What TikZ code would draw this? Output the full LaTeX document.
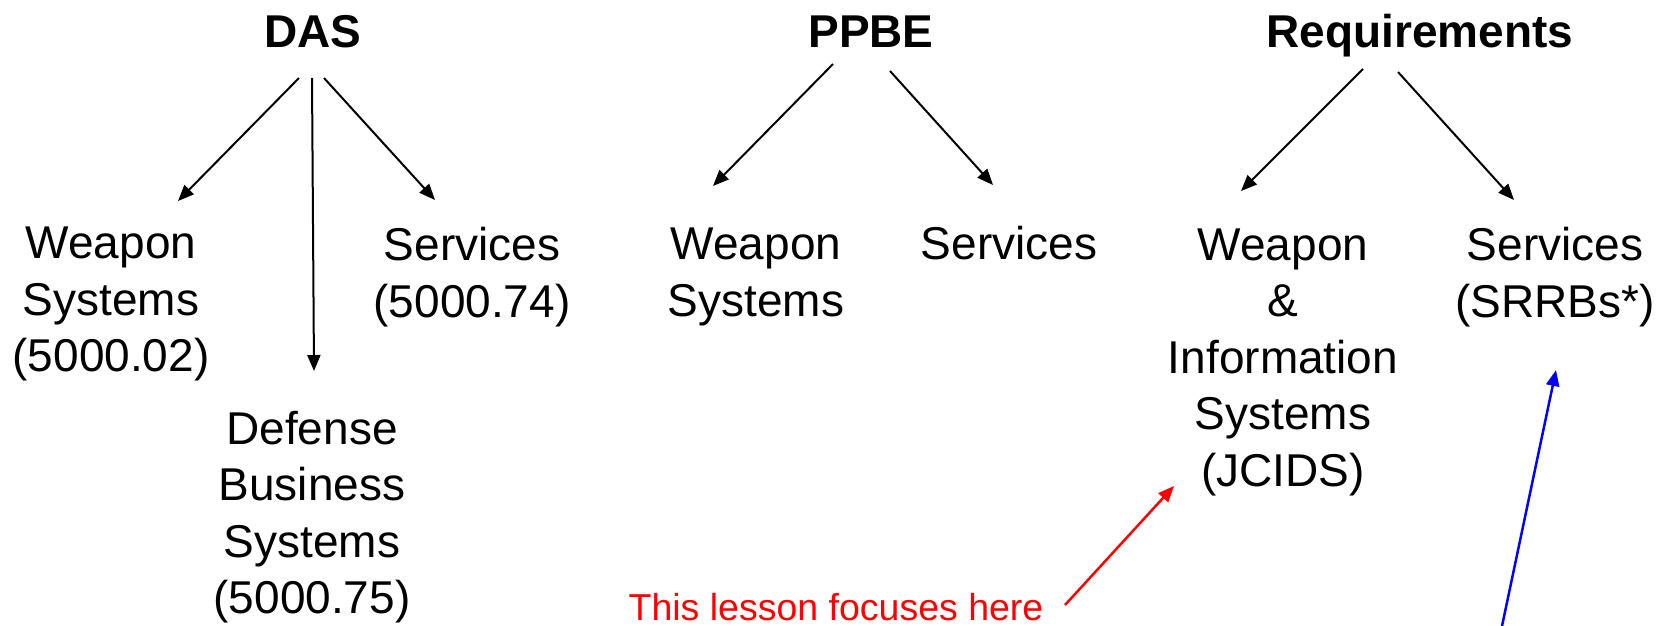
\documentclass[tikz,border=0pt]{standalone}
\usepackage{fontspec}
\setmainfont{Liberation Sans}
\usetikzlibrary{arrows.meta}
\begin{document}
\begin{tikzpicture}[x=1pt,y=-1pt,
  head/.style={font=\fontsize{46}{56}\selectfont\bfseries, inner sep=0pt, anchor=base},
  leaf/.style={font=\fontsize{46}{56.5}\selectfont, align=center, inner sep=0pt},
  arr/.style={line width=2pt, -{Triangle[length=16pt,width=13pt]}},
  note/.style={font=\fontsize{37.5}{44}\selectfont, text=red, inner sep=0pt}]
\useasboundingbox (0,0) rectangle (1680,625);

% column headings
\node[head] (das)  at (313,47)  {DAS};
\node[head] (ppbe) at (871,47)  {PPBE};
\node[head] (req)  at (1420,47) {Requirements};

% DAS branch
\node[leaf] (dasw) at (111,304) {Weapon\\Systems\\(5000.02)};
\node[leaf] (dass) at (472,277) {Services\\(5000.74)};
\node[leaf] (dasb) at (312,517) {Defense\\Business\\Systems\\(5000.75)};

% PPBE branch
\node[leaf] (ppw) at (756,277) {Weapon\\Systems};
\node[leaf] (pps) at (1009,243) {Services};

% Requirements branch
\node[leaf] (rqw) at (1283,362) {Weapon\\\&\\Information\\Systems\\(JCIDS)};
\node[leaf] (rqs) at (1555,277) {Services\\(SRRBs*)};

% arrow end points
\coordinate (a1s) at (299,78);  \coordinate (a1e) at (178,201);
\coordinate (a2s) at (312,78);  \coordinate (a2e) at (314,371);
\coordinate (a3s) at (324,78);  \coordinate (a3e) at (435,200);
\coordinate (b1s) at (833,64);  \coordinate (b1e) at (713,186);
\coordinate (b2s) at (890,71);  \coordinate (b2e) at (993,185);
\coordinate (c1s) at (1363,69); \coordinate (c1e) at (1241,191);
\coordinate (c2s) at (1398,72); \coordinate (c2e) at (1514,200);

\draw[arr] (a1s) -- (a1e);
\draw[arr] (a2s) -- (a2e);
\draw[arr] (a3s) -- (a3e);
\draw[arr] (b1s) -- (b1e);
\draw[arr] (b2s) -- (b2e);
\draw[arr] (c1s) -- (c1e);
\draw[arr] (c2s) -- (c2e);

% red pointer to JCIDS
\node[note, anchor=base] (focus) at (836,620) {This lesson focuses here};
\coordinate (rs) at (1065,605);
\coordinate (re) at (1174,486);
\draw[arr, red, line width=2.5pt] (rs) -- (re);

% blue pointer to SRRBs
\coordinate (bs) at (1502,626);
\coordinate (be) at (1556,370);
\draw[arr, blue, line width=2.5pt] (bs) -- (be);
\end{tikzpicture}
\end{document}
